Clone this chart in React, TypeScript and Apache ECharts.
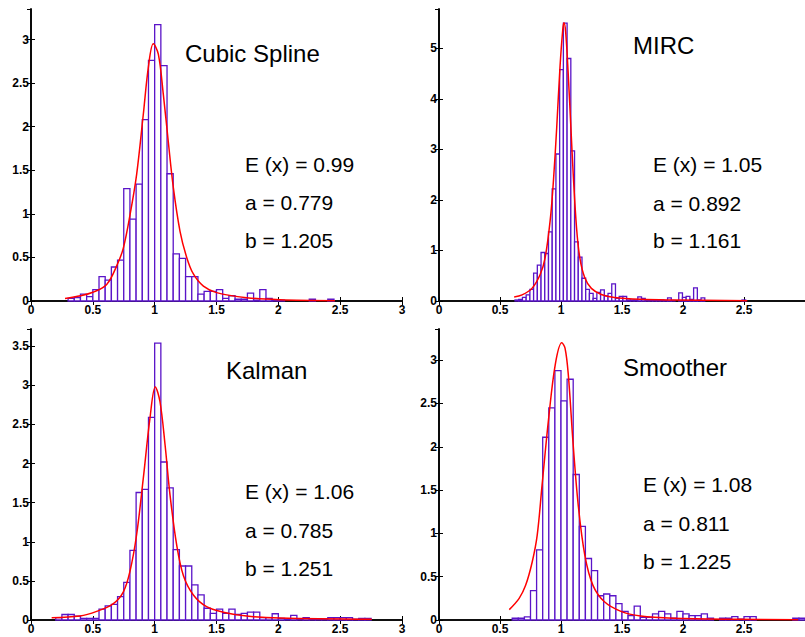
import React, { useEffect, useRef } from 'react';
import * as echarts from 'echarts';

// ---------- data ----------
const methodNames = ['Cubic Spline', 'MIRC', 'Kalman', 'Smoother'];
const meanValues = ['0.99', '1.05', '1.06', '1.08'];
const aValues = ['0.779', '0.892', '0.785', '0.811'];
const bValues = ['1.205', '1.161', '1.251', '1.225'];

const xLimits = [0, 3];
const xTickStep = 0.5;
const yLimits = [3.35, 5.78, 3.72, 3.36];
const yTickSteps = [0.5, 1, 0.5, 0.5];

// histogram bins: first edge, width, heights
const splineBinStart = 0.3;
const splineBinWidth = 0.05;
const splineHeights = [
  0.03, 0.04, 0.08, 0.05, 0.13, 0.28, 0.24, 0.39, 0.47, 1.29, 0.94, 1.34, 2.08, 2.76, 3.17, 2.7,
  1.46, 0.54, 0.49, 0.28, 0.28, 0.08, 0.11, 0.11, 0.13, 0.03, 0.06, 0.02, 0.02, 0.09, 0.01, 0.13,
  0.03, 0.01, 0.01, 0, 0, 0, 0, 0.02, 0, 0, 0.02,
];

const mircBinStart = 0.623;
const mircBinWidth = 0.0305;
const mircHeights = [
  0.02, 0.03, 0.07, 0.12, 0.23, 0.55, 0.71, 0.96, 0.94, 1.37, 2.22, 2.91, 4.58, 5.5, 4.8, 2.97,
  1.17, 0.87, 0.45, 0.23, 0.15, 0.05, 0.17, 0.22, 0.1, 0.15, 0.34, 0.05, 0.09, 0.09, 0.02, 0.02,
  0.02, 0.08, 0.05, 0.02, 0.01, 0.02, 0.01, 0.02, 0.01, 0.06, 0.01, 0, 0.16, 0.07, 0.09, 0.03,
  0.26, 0.02, 0.06, 0, 0, 0, 0, 0, 0, 0, 0, 0, 0, 0.02,
];

const kalmanBinStart = 0.2;
const kalmanBinWidth = 0.05;
const kalmanHeights = [
  0.03, 0.07, 0.07, 0.05, 0.02, 0.02, 0.02, 0.14, 0.18, 0.2, 0.3, 0.48, 0.89, 1.63, 1.67, 2.59,
  3.54, 2.02, 1.69, 0.9, 0.69, 0.69, 0.45, 0.32, 0.15, 0.085, 0.14, 0.085, 0.14, 0.07, 0.085, 0.1,
  0.1, 0.03, 0.03, 0.08, 0.02, 0.01, 0.06, 0.01, 0.03, 0.01, 0.01, 0.01, 0.03, 0.03, 0.03, 0.03,
  0.01, 0.02, 0.02,
];

const smootherBinStart = 0.6;
const smootherBinWidth = 0.05;
const smootherHeights = [
  0.02, 0.02, 0.035, 0.34, 0.81, 2.11, 2.45, 2.88, 2.53, 2.78, 1.68, 1.08, 0.71, 0.57, 0.28, 0.3,
  0.28, 0.19, 0.1, 0.05, 0.16, 0.03, 0.03, 0.07, 0.1, 0.07, 0.02, 0.1, 0.07, 0.05, 0.05, 0.07,
  0.02, 0, 0.02, 0.02, 0.04, 0.01, 0.04, 0.04, 0, 0, 0, 0, 0, 0, 0.02, 0.02,
];

// fitted density curves [x, y]
const splineCurve = [
  [0.275, 0.03], [0.4, 0.06], [0.5, 0.1], [0.612, 0.19], [0.698, 0.42], [0.747, 0.61], [0.801, 0.99],
  [0.854, 1.45], [0.908, 2.14], [0.949, 2.68], [0.989, 2.95], [1.03, 2.83], [1.07, 2.37], [1.11, 1.83],
  [1.151, 1.3], [1.205, 0.8], [1.259, 0.5], [1.313, 0.31], [1.394, 0.17], [1.501, 0.096], [1.744, 0.038],
  [2.013, 0.015], [2.458, 0.004],
];
const mircCurve = [
  [0.616, 0.08], [0.681, 0.12], [0.762, 0.25], [0.83, 0.53], [0.87, 0.86], [0.911, 1.59], [0.938, 2.38],
  [0.965, 3.44], [0.992, 4.64], [1.014, 5.36], [1.024, 5.51], [1.038, 5.33], [1.059, 4.5], [1.081, 3.44],
  [1.1, 2.52], [1.127, 1.46], [1.154, 0.86], [1.195, 0.46], [1.249, 0.25], [1.33, 0.13], [1.438, 0.07],
  [1.652, 0.033], [1.92, 0.02], [2.527, 0.007],
];
const kalmanCurve = [
  [0.167, 0.03], [0.396, 0.05], [0.531, 0.11], [0.666, 0.21], [0.747, 0.36], [0.8, 0.62], [0.854, 1.09],
  [0.908, 1.81], [0.962, 2.58], [1.005, 2.98], [1.043, 2.79], [1.084, 2.24], [1.124, 1.6], [1.178, 0.96],
  [1.232, 0.57], [1.313, 0.32], [1.42, 0.17], [1.555, 0.1], [1.744, 0.05], [2.013, 0.026], [2.755, 0.01],
];
const smootherCurve = [
  [0.576, 0.12], [0.657, 0.25], [0.71, 0.4], [0.764, 0.67], [0.805, 0.98], [0.845, 1.56], [0.899, 2.33],
  [0.953, 2.95], [1.006, 3.2], [1.033, 3.14], [1.06, 2.83], [1.1, 2.02], [1.141, 1.33], [1.195, 0.75],
  [1.262, 0.4], [1.356, 0.21], [1.491, 0.1], [1.652, 0.046], [1.921, 0.02], [2.46, 0.008], [2.944, 0.004],
];

const binStarts = [splineBinStart, mircBinStart, kalmanBinStart, smootherBinStart];
const binWidths = [splineBinWidth, mircBinWidth, kalmanBinWidth, smootherBinWidth];
const heightLists = [splineHeights, mircHeights, kalmanHeights, smootherHeights];
const curveLists = [splineCurve, mircCurve, kalmanCurve, smootherCurve];

// ---------- layout / style ----------
const FONT = '"Liberation Sans", Arial, Helvetica, sans-serif';
const BAR_COLOR = '#5a14c8';

const gridBoxes = [
  { left: 31, top: 9, width: 371, height: 292 },
  { left: 439, top: 9, width: 371, height: 292 },
  { left: 31, top: 329, width: 371, height: 291 },
  { left: 439, top: 329, width: 371, height: 291 },
];
const titlePos = [[185, 53], [633, 45], [226, 370], [623, 367]];
const statPos = [
  [245, [164, 202, 240]],
  [653, [164, 203, 240]],
  [245, [491, 530, 568]],
  [643, [484, 523, 561]],
] as const;

export default function App() {
  const ref = useRef<HTMLDivElement>(null);

  useEffect(() => {
    if (!ref.current) return;
    const chart = echarts.init(ref.current, undefined, { renderer: 'svg' });

    const xAxes: any[] = [];
    const yAxes: any[] = [];
    const series: any[] = [];
    const graphics: any[] = [];

    gridBoxes.forEach((g, i) => {
      const clipRight = i % 2 === 1;
      const labelStyle = { color: '#000', fontSize: 12, fontWeight: 'bold', fontFamily: FONT };
      const line = { show: true, lineStyle: { color: '#000', width: 1.6 } };
      const tick = { show: true, inside: true, length: 4, lineStyle: { color: '#000', width: 1 } };
      xAxes.push({
        type: 'value', gridIndex: i, min: xLimits[0], max: xLimits[1], interval: xTickStep,
        position: 'bottom',
        axisLine: line,
        axisTick: tick,
        axisLabel: { ...labelStyle, margin: 3, showMaxLabel: !clipRight },
        splitLine: { show: false },
      });
      xAxes.push({
        type: 'value', gridIndex: i, min: xLimits[0], max: xLimits[1], interval: xTickStep,
        position: 'top',
        axisLine: line,
        axisTick: tick,
        axisLabel: { show: false },
        splitLine: { show: false },
      });
      yAxes.push({
        type: 'value', gridIndex: i, min: 0, max: yLimits[i], interval: yTickSteps[i],
        position: 'left',
        axisLine: line,
        axisTick: tick,
        axisLabel: { ...labelStyle, margin: 2, showMaxLabel: false },
        splitLine: { show: false },
      });
      yAxes.push({
        type: 'value', gridIndex: i, min: 0, max: yLimits[i], interval: yTickSteps[i],
        position: 'right',
        axisLine: line,
        axisTick: tick,
        axisLabel: { show: false },
        splitLine: { show: false },
      });

      const barData = heightLists[i].map((h, k) => [
        binStarts[i] + k * binWidths[i],
        binStarts[i] + (k + 1) * binWidths[i],
        h,
      ]);
      series.push({
        type: 'custom',
        xAxisIndex: 2 * i,
        yAxisIndex: 2 * i,
        data: barData,
        z: 2,
        renderItem: (_params: any, api: any) => {
          const x0 = api.value(0);
          const x1 = api.value(1);
          const h = api.value(2);
          if (!(h > 0)) return { type: 'group', children: [] };
          const p0 = api.coord([x0, h]);
          const p1 = api.coord([x1, 0]);
          return {
            type: 'rect',
            shape: { x: p0[0], y: p0[1], width: p1[0] - p0[0], height: p1[1] - p0[1] },
            style: { fill: '#fff', stroke: BAR_COLOR, lineWidth: 1.3 },
          };
        },
      });
      series.push({
        type: 'line',
        xAxisIndex: 2 * i,
        yAxisIndex: 2 * i,
        data: curveLists[i],
        smooth: 0.35,
        showSymbol: false,
        symbol: 'none',
        z: 5,
        lineStyle: { color: '#ff0000', width: 1.5 },
      });

      graphics.push({
        type: 'text', x: titlePos[i][0], y: titlePos[i][1], z: 10,
        style: { text: methodNames[i], fill: '#000', fontSize: 24, fontFamily: FONT, align: 'left', verticalAlign: 'middle' },
      });
      const [sx, sys] = statPos[i];
      const lines = [`E (x) = ${meanValues[i]}`, `a = ${aValues[i]}`, `b = ${bValues[i]}`];
      lines.forEach((t, k) => {
        graphics.push({
          type: 'text', x: sx, y: sys[k], z: 10,
          style: { text: t, fill: '#000', fontSize: 21, fontFamily: FONT, align: 'left', verticalAlign: 'middle' },
        });
      });
    });

    chart.setOption({
      animation: false,
      backgroundColor: '#fff',
      grid: gridBoxes.map((g) => ({ ...g, show: false, containLabel: false })),
      xAxis: xAxes,
      yAxis: yAxes,
      series,
      graphic: graphics,
    });

    return () => chart.dispose();
  }, []);

  return (
    <div
      ref={ref}
      style={{ position: 'fixed', left: 0, top: 0, width: 805, height: 637, background: '#fff' }}
    />
  );
}
